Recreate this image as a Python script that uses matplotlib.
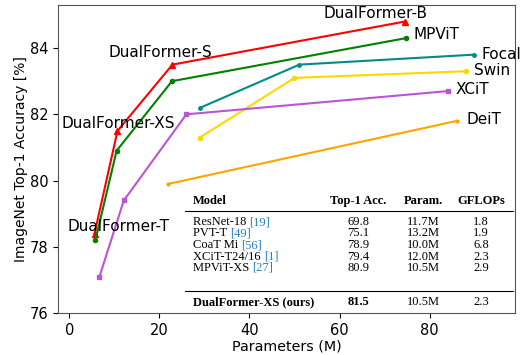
import matplotlib
matplotlib.use("Agg")
from matplotlib import pyplot as plt

# model families: params (M), top-1 acc (%)
dual_p = [5.6, 10.7, 22.9, 74.5]
dual_a = [78.4, 81.5, 83.5, 84.8]
mpvit_p = [5.8, 10.5, 22.8, 74.8]
mpvit_a = [78.2, 80.9, 83.0, 84.3]
focal_p = [29.1, 51.1, 89.8]
focal_a = [82.2, 83.5, 83.8]
swin_p = [29.0, 50.0, 88.0]
swin_a = [81.3, 83.1, 83.3]
xcit_p = [6.7, 12.1, 26.0, 84.0]
xcit_a = [77.1, 79.4, 82.0, 82.7]
deit_p = [22.0, 86.0]
deit_a = [79.9, 81.8]

# table
header = ["Model", "Top-1 Acc.", "Param.", "GFLOPs"]
names = ["ResNet-18", "PVT-T", "CoaT Mi", "XCiT-T24/16", "MPViT-XS"]
cites = ["[19]", "[49]", "[56]", "[1]", "[27]"]
accs = ["69.8", "75.1", "78.9", "79.4", "80.9"]
params = ["11.7M", "13.2M", "10.0M", "12.0M", "10.5M"]
flops = ["1.8", "1.9", "6.8", "2.3", "2.9"]
ours = ["DualFormer-XS (ours)", "81.5", "10.5M", "2.3"]

fig = plt.figure(figsize=(5.23, 3.55), dpi=100)
ax = fig.add_axes([0.111, 0.118, 0.874, 0.868])

ax.plot(dual_p, dual_a, color="red", marker="^", ms=4, lw=1.5)
ax.plot(mpvit_p, mpvit_a, color="green", marker="o", ms=3, lw=1.5)
ax.plot(focal_p, focal_a, color="darkcyan", marker=".", ms=5, lw=1.5)
ax.plot(swin_p, swin_a, color="gold", marker="o", ms=3, lw=1.5)
ax.plot(xcit_p, xcit_a, color="mediumorchid", marker="s", ms=3, lw=1.5)
ax.plot(deit_p, deit_a, color="orange", marker=".", ms=4, lw=1.5)

fs = 11
ax.text(68, 85.03, "DualFormer-B", fontsize=fs, ha="center", va="center")
ax.text(76.4, 84.42, "MPViT", fontsize=fs, ha="left", va="center")
ax.text(91.6, 83.8, "Focal", fontsize=fs, ha="left", va="center")
ax.text(89.8, 83.33, "Swin", fontsize=fs, ha="left", va="center")
ax.text(85.8, 82.76, "XCiT", fontsize=fs, ha="left", va="center")
ax.text(88.2, 81.85, "DeiT", fontsize=fs, ha="left", va="center")
ax.text(20.2, 83.88, "DualFormer-S", fontsize=fs, ha="center", va="center")
ax.text(10.9, 81.73, "DualFormer-XS", fontsize=fs, ha="center", va="center")
ax.text(10.9, 78.6, "DualFormer-T", fontsize=fs, ha="center", va="center")

ax.set_xlim(-2.5, 99)
ax.set_ylim(76, 85.3)
ax.set_xticks([0, 20, 40, 60, 80])
ax.set_yticks([76, 78, 80, 82, 84])
ax.set_xlabel("Parameters (M)", fontsize=10.3, labelpad=1)
ax.set_ylabel("ImageNet Top-1 Accuracy [%]", fontsize=10, labelpad=1)
ax.tick_params(labelsize=10.5)
for s in ax.spines.values():
    s.set_color("#555555")

# table placed in figure pixel coordinates
W, H = 523.0, 355.0
def fx(px):
    return px / W
def fy(py):
    return 1 - py / H

serif = "Liberation Serif"
tfs = 9
cite_color = "#2a7fc0"
cols = [193, 358, 423, 481]
fig.text(fx(cols[0]), fy(201), header[0], fontsize=tfs, family=serif, weight="bold", va="center", ha="left")
for c, h in zip(cols[1:], header[1:]):
    fig.text(fx(c), fy(201), h, fontsize=tfs, family=serif, weight="bold", va="center", ha="center")

fig.add_artist(plt.Line2D([fx(185), fx(513)], [fy(210.5), fy(210.5)], color="black", lw=0.8))
fig.add_artist(plt.Line2D([fx(185), fx(513)], [fy(291), fy(291)], color="black", lw=0.8))

row_y = [222, 233.5, 245, 256.5, 268]
for i in range(len(names)):
    t = fig.text(fx(cols[0]), fy(row_y[i]), names[i] + " ", fontsize=tfs, family=serif, va="center", ha="left")
    ax.annotate(cites[i], xy=(1, 0.5), xycoords=t, fontsize=tfs, family=serif,
                color=cite_color, va="center", ha="left")
    fig.text(fx(cols[1]), fy(row_y[i]), accs[i], fontsize=tfs, family=serif, va="center", ha="center")
    fig.text(fx(cols[2]), fy(row_y[i]), params[i], fontsize=tfs, family=serif, va="center", ha="center")
    fig.text(fx(cols[3]), fy(row_y[i]), flops[i], fontsize=tfs, family=serif, va="center", ha="center")

fig.text(fx(cols[0]), fy(302), ours[0], fontsize=tfs, family=serif, weight="bold", va="center", ha="left")
fig.text(fx(cols[1]), fy(302), ours[1], fontsize=tfs, family=serif, weight="bold", va="center", ha="center")
fig.text(fx(cols[2]), fy(302), ours[2], fontsize=tfs, family=serif, va="center", ha="center")
fig.text(fx(cols[3]), fy(302), ours[3], fontsize=tfs, family=serif, va="center", ha="center")

fig.savefig("out.png", dpi=100)
